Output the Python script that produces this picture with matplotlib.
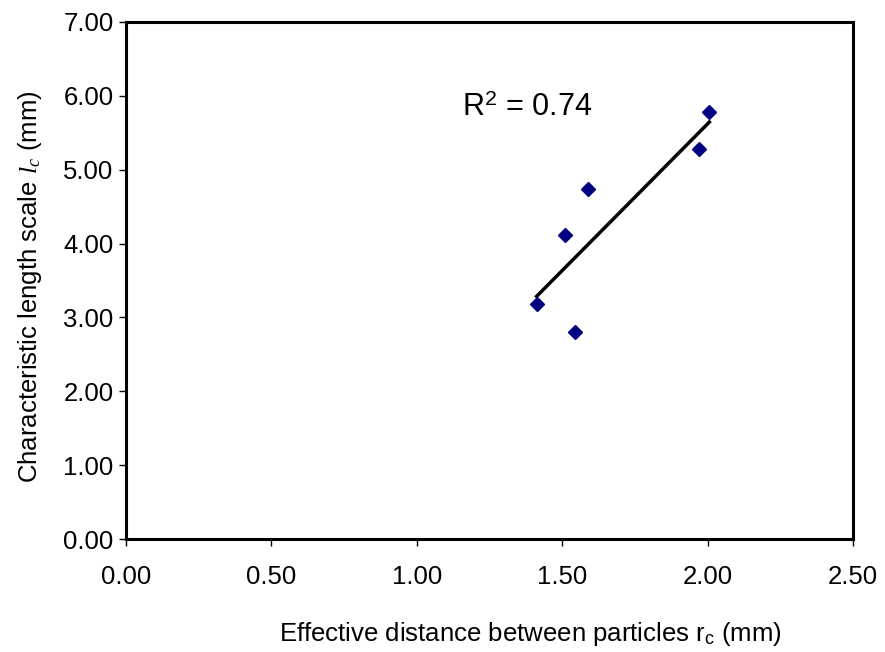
import numpy as np
import matplotlib
matplotlib.use("Agg")
import matplotlib.pyplot as plt

plt.rcParams['font.family'] = 'Liberation Sans'
plt.rcParams['mathtext.fontset'] = 'custom'
plt.rcParams['mathtext.rm'] = 'Liberation Sans'
plt.rcParams['mathtext.it'] = 'Liberation Serif:italic'

# data
rc = [2.006, 1.971, 1.590, 1.508, 1.412, 1.543]
lc = [5.785, 5.276, 4.739, 4.12, 3.178, 2.80]
xticks = [0.0, 0.5, 1.0, 1.5, 2.0, 2.5]
yticks = [0, 1, 2, 3, 4, 5, 6, 7]

fig = plt.figure(figsize=(8.85, 6.52), dpi=100)
ax = fig.add_axes([0.1424, 0.1733, 0.8214, 0.7930])

ax.plot(rc, lc, 'D', color='#000080', markersize=7.5, zorder=3)

# linear trend line over the data range
slope, icpt = np.polyfit(rc, lc, 1)
xs = np.array([min(rc), max(rc)])
ax.plot(xs, slope * xs + icpt, color='black', lw=2.5)

ax.text(1.155, 5.73, r'R$^2$ = 0.74', fontsize=22)

ax.set_xlim(0, 2.5)
ax.set_ylim(0, 7)
ax.set_xticks(xticks)
ax.set_yticks(yticks)
ax.set_xticklabels(['%.2f' % v for v in xticks])
ax.set_yticklabels(['%.2f' % v for v in yticks])
ax.tick_params(axis='both', labelsize=18.5, direction='out', length=5, width=1)
ax.tick_params(axis='x', pad=14)
ax.tick_params(axis='y', pad=4)
for s in ax.spines.values():
    s.set_linewidth(2.2)

ax.set_xlabel(r'Effective distance between particles r$_\mathrm{c}$ (mm)', fontsize=18.5, labelpad=22)
ax.set_ylabel(r'Characteristic length scale $l_c$ (mm)', fontsize=18.5, labelpad=14)
ax.xaxis.label.set_x(0.556)
ax.yaxis.label.set_y(0.487)

fig.savefig('out.png', dpi=100)
